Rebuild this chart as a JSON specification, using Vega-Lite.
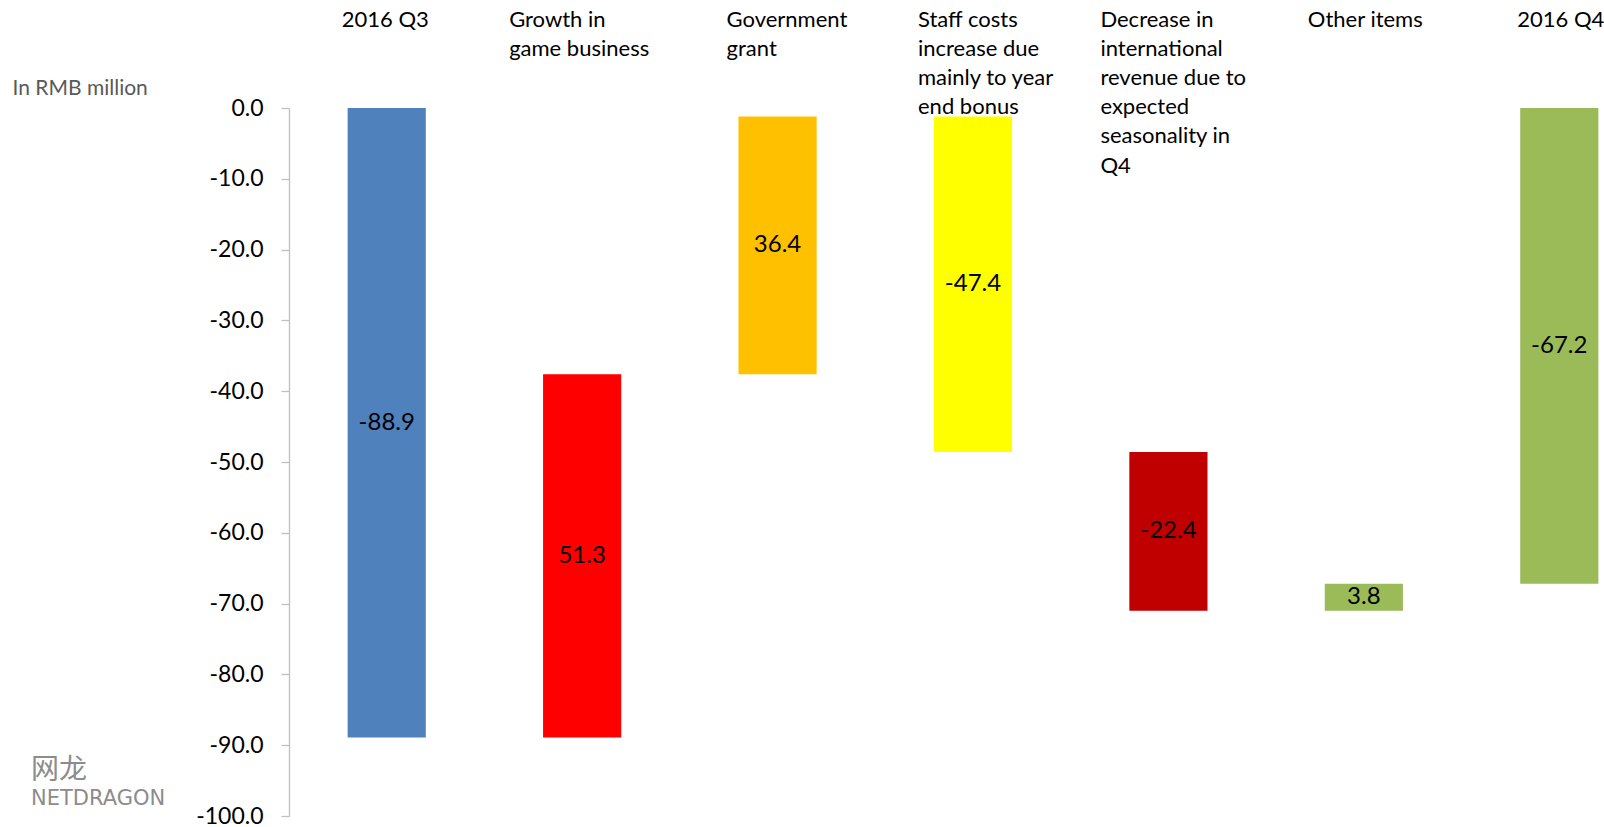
{
  "$schema": "https://vega.github.io/schema/vega-lite/v6.json",
  "width": 1315,
  "height": 708,
  "autosize": {"type": "none"},
  "padding": {"left": 289, "top": 108, "right": 0, "bottom": 11},
  "background": "white",
  "config": {
    "view": {"stroke": null},
    "locale": {"number": {"decimal": ".", "thousands": ",", "grouping": [3], "currency": ["", ""], "minus": "-"}}
  },
  "title": {
    "text": "网龙",
    "subtitle": "NETDRAGON",
    "orient": "bottom",
    "anchor": "start",
    "frame": "group",
    "offset": 0,
    "dx": -258,
    "dy": -71,
    "font": "Noto Sans CJK SC",
    "fontSize": 28,
    "fontWeight": "normal",
    "color": "#8c8c8c",
    "subtitleFont": "DejaVu Sans",
    "subtitleFontSize": 21,
    "subtitleColor": "#8c8c8c",
    "subtitlePadding": 3
  },
  "data": {
    "values": [
      {"category": "2016 Q3", "start": 0, "end": -88.9, "amount": -88.9},
      {"category": "Growth in game business", "start": -88.9, "end": -37.6, "amount": 51.3},
      {"category": "Government grant", "start": -37.6, "end": -1.2, "amount": 36.4},
      {"category": "Staff costs increase due mainly to year end bonus", "start": -1.2, "end": -48.6, "amount": -47.4},
      {"category": "Decrease in international revenue due to expected seasonality in Q4", "start": -48.6, "end": -71.0, "amount": -22.4},
      {"category": "Other items", "start": -71.0, "end": -67.2, "amount": 3.8},
      {"category": "2016 Q4", "start": 0, "end": -67.2, "amount": -67.2}
    ]
  },
  "encoding": {
    "x": {
      "field": "category",
      "type": "nominal",
      "sort": null,
      "scale": {
        "type": "band",
        "domain": ["2016 Q3", "Growth in game business", "Government grant", "Staff costs increase due mainly to year end bonus", "Decrease in international revenue due to expected seasonality in Q4", "Other items", "2016 Q4"],
        "range": [0, 1368],
        "paddingInner": 0.6,
        "paddingOuter": 0.3
      },
      "axis": {
        "orient": "top",
        "title": null,
        "ticks": false,
        "tickSize": 0,
        "domain": false,
        "labelAngle": 0,
        "labelBaseline": "top",
        "labelAlign": "left",
        "labelPadding": 99,
        "labelFont": "Lato",
        "labelFontSize": 22,
        "labelColor": "#000000",
        "labelLineHeight": 29.2,
        "labelLimit": 400,
        "labelOverlap": false,
        "labelOffset": {
          "condition": [
            {"test": "datum.value === '2016 Q3'", "value": -45},
            {"test": "datum.value === 'Growth in game business'", "value": -73},
            {"test": "datum.value === 'Government grant'", "value": -51},
            {"test": "datum.value === 'Staff costs increase due mainly to year end bonus'", "value": -55},
            {"test": "datum.value === 'Decrease in international revenue due to expected seasonality in Q4'", "value": -68},
            {"test": "datum.value === 'Other items'", "value": -56}
          ],
          "value": -42
        },
        "labelExpr": "datum.value === 'Growth in game business' ? ['Growth in', 'game business'] : datum.value === 'Government grant' ? ['Government', 'grant'] : datum.value === 'Staff costs increase due mainly to year end bonus' ? ['Staff costs', 'increase due', 'mainly to year', 'end bonus'] : datum.value === 'Decrease in international revenue due to expected seasonality in Q4' ? ['Decrease in', 'international', 'revenue due to', 'expected', 'seasonality in', 'Q4'] : datum.value"
      }
    }
  },
  "layer": [
    {
      "mark": {"type": "bar"},
      "encoding": {
        "y": {
          "field": "start",
          "type": "quantitative",
          "scale": {"domain": [-100, 0], "nice": false, "zero": false},
          "axis": {
            "values": [0, -10, -20, -30, -40, -50, -60, -70, -80, -90, -100],
            "format": ".1f",
            "grid": false,
            "tickSize": 8,
            "tickColor": "#BFBFBF",
            "tickWidth": 1.3,
            "domainColor": "#BFBFBF",
            "domainWidth": 1.3,
            "labelPadding": 18,
            "labelFont": "Lato",
            "labelFontSize": 23,
            "labelColor": "#000000",
            "title": "In RMB million",
            "titleAngle": 0,
            "titleAlign": "left",
            "titleBaseline": "middle",
            "titleX": -277,
            "titleY": -20,
            "titleFont": "Lato",
            "titleFontSize": 21,
            "titleFontWeight": "normal",
            "titleColor": "#595959"
          }
        },
        "y2": {"field": "end"},
        "color": {
          "field": "category",
          "type": "nominal",
          "legend": null,
          "scale": {
            "domain": ["2016 Q3", "Growth in game business", "Government grant", "Staff costs increase due mainly to year end bonus", "Decrease in international revenue due to expected seasonality in Q4", "Other items", "2016 Q4"],
            "range": ["#4F81BD", "#FF0000", "#FFC000", "#FFFF00", "#C00000", "#9BBB59", "#9BBB59"]
          }
        }
      }
    },
    {
      "transform": [
        {"fold": ["start", "end"], "as": ["edge", "v"]},
        {"aggregate": [{"op": "mean", "field": "v", "as": "mid"}], "groupby": ["category", "amount"]}
      ],
      "mark": {"type": "text", "font": "Lato", "fontSize": 24, "color": "#000000", "baseline": "middle", "align": "center"},
      "encoding": {
        "y": {"field": "mid", "type": "quantitative"},
        "text": {"field": "amount", "type": "quantitative", "format": ".1f"}
      }
    }
  ]
}
